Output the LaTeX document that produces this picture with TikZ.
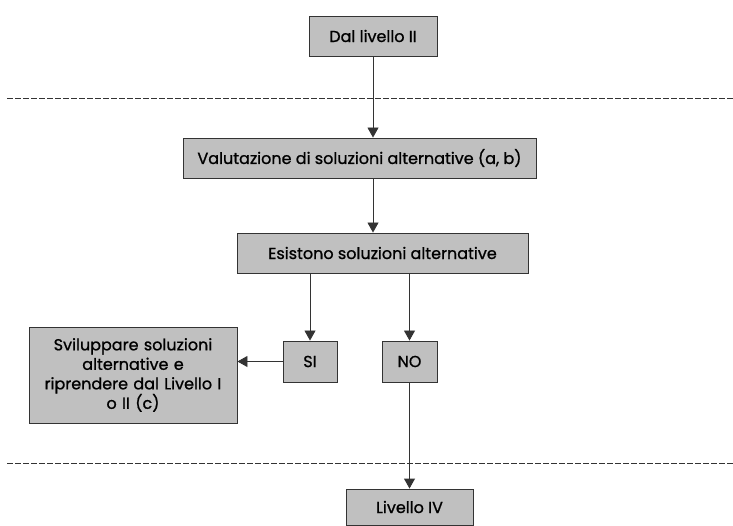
\documentclass[tikz,border=0pt]{standalone}
\usepackage{fontspec}
\setmainfont{Poppins}[UprightFeatures={FakeBold=1.0}]
\usetikzlibrary{arrows.meta}
\definecolor{boxgray}{HTML}{C0C0C0}
\definecolor{linegray}{HTML}{333333}
\tikzset{
  box/.style={draw=linegray, line width=0.9pt, fill=boxgray, inner sep=0pt, font=\fontsize{16}{19.5}\selectfont, align=center},
  conn/.style={draw=linegray, line width=0.9pt, -{Triangle[width=11pt,length=10pt]}},
  sep/.style={draw=linegray, line width=0.8pt, dash pattern=on 6pt off 2pt},
}
\begin{document}
\begin{tikzpicture}[x=1pt,y=-1pt]
\useasboundingbox (0,0) rectangle (733,526);
\node[box, minimum width=128pt, minimum height=40pt] (dal) at (373,36) {Dal livello II};
\node[box, minimum width=353pt, minimum height=40pt] (val) at (359.5,158) {Valutazione di soluzioni alternative (a, b)};
\node[box, minimum width=291pt, minimum height=40pt] (esi) at (382.5,253) {Esistono soluzioni alternative};
\node[box, minimum width=54pt, minimum height=41pt] (si) at (310,361.5) {SI};
\node[box, minimum width=55pt, minimum height=41pt] (no) at (409.5,361.5) {NO};
\node[box, minimum width=208pt, minimum height=96pt, text width=195pt] (svi) at (133,375) {Sviluppare soluzioni\\alternative e\\riprendere dal Livello I\\o II (c)};
\node[box, minimum width=127pt, minimum height=36pt] (liv) at (409.5,507) {Livello IV};
\coordinate (l1a) at (7,98);
\coordinate (l1b) at (733,98);
\coordinate (l2a) at (7,463);
\coordinate (l2b) at (733,463);
\draw[sep] (l1a) -- (l1b);
\draw[sep] (l2a) -- (l2b);
\draw[conn] (dal.south) -- (val.north -| dal.south);
\draw[conn] (val.south -| dal.south) -- (esi.north -| dal.south);
\draw[conn] (esi.south -| si.north) -- (si.north);
\draw[conn] (esi.south -| no.north) -- (no.north);
\draw[conn] (si.west) -- (svi.east |- si.west);
\draw[conn] (no.south) -- (liv.north);
\end{tikzpicture}
\end{document}
